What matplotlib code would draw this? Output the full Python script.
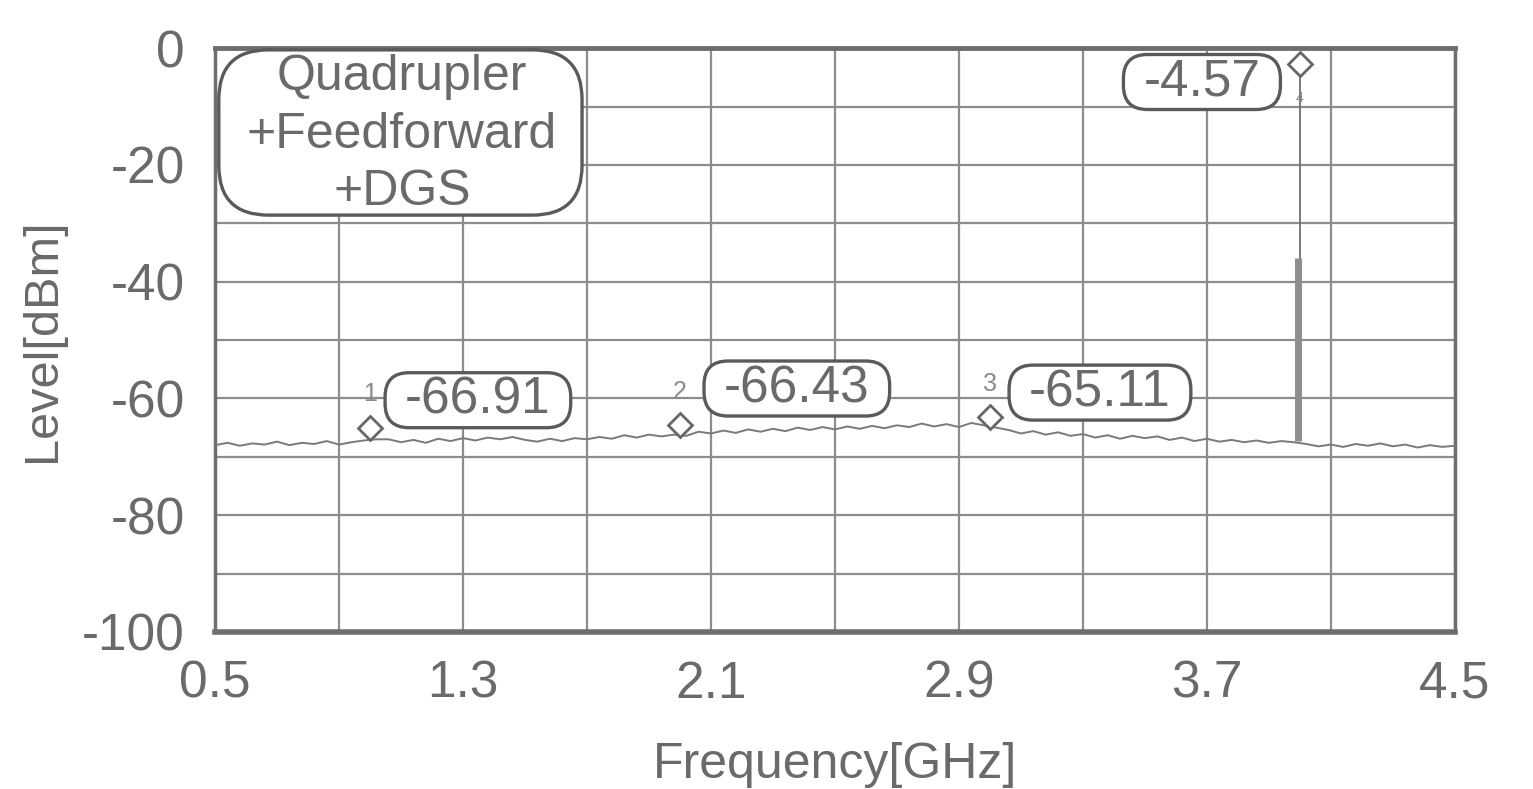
import numpy as np
import matplotlib
matplotlib.use("Agg")
import matplotlib.pyplot as plt
from matplotlib.patches import FancyBboxPatch
from matplotlib.transforms import offset_copy, IdentityTransform

plt.rcParams["font.family"] = ["Liberation Sans", "DejaVu Sans"]

# sweep: 0.5 .. 4.5 GHz, 101 points
freq = np.linspace(0.5, 4.5, 101)
level = [
    -68.0, -67.6, -68.1, -67.7, -67.9, -67.4, -68.0, -67.6, -67.8, -67.3,
    -67.9, -67.5, -67.2, -67.0, -67.0, -67.5, -67.1, -67.6, -66.9, -67.3,
    -66.8, -67.2, -66.7, -67.0, -66.6, -67.1, -67.4, -66.9, -67.3, -66.8,
    -67.0, -66.6, -66.9, -66.3, -66.7, -66.2, -66.5, -66.2, -66.4, -65.7,
    -66.0, -65.5, -65.9, -65.3, -65.7, -65.2, -65.6, -65.0, -65.4, -64.9,
    -65.3, -64.8, -65.2, -64.7, -65.1, -64.6, -64.9, -64.3, -64.8, -64.4,
    -64.9, -64.2, -64.6, -65.0, -65.4, -66.0, -65.6, -66.2, -65.8, -66.4,
    -66.1, -66.7, -66.3, -66.9, -66.4, -66.8, -66.5, -67.1, -66.7, -67.3,
    -66.9, -67.4, -67.1, -67.5, -67.2, -67.6, -67.3, -67.5, -67.8, -68.2,
    -67.9, -68.3, -67.8, -68.1, -67.7, -68.2, -67.9, -68.4, -68.0, -68.3,
    -68.1,
]

# carrier spike at 4 GHz
spike_freq = 4.0
spike_floor = -67.3
spike_peak = -4.57
spike_thick_top = -36.0

# markers
marker_ids = ["1", "2", "3", "4"]
marker_freq = [1.0, 2.0, 3.0, 4.0]
marker_level = [-66.91, -66.43, -65.11, -4.57]
label_x = [1.348, 2.377, 3.355, 3.684]
label_y = [-60.3, -58.3, -59.0, -5.8]

legend_text = "Quadrupler\n+Feedforward\n+DGS"

gray = "#6a6a6a"
edge = "#5a5a5a"

fig = plt.figure(figsize=(15.33, 7.89), dpi=100)
ax = fig.add_axes([0.1403, 0.199, 0.949 - 0.1403, 0.939 - 0.199])

ax.plot(freq, level, color="#7a7a7a", lw=1.4, zorder=3)
ax.vlines(spike_freq, spike_floor, spike_peak, color="#707070", lw=1.3, zorder=3)
ax.vlines(spike_freq - 0.005, spike_floor, spike_thick_top, color="#8e8e8e", lw=5, zorder=3)

ax.set_xlim(0.5, 4.5)
ax.set_ylim(-100, 0)
ax.set_xticks([0.5, 1.3, 2.1, 2.9, 3.7, 4.5])
ax.set_xticks(np.arange(0.5, 4.51, 0.4), minor=True)
ax.set_yticks(np.arange(-100, 1, 20))
ax.set_yticks(np.arange(-100, 1, 10), minor=True)
ax.set_xticklabels(["0.5", "1.3", "2.1", "2.9", "3.7", "4.5"])
ax.set_yticklabels(["-100", "-80", "-60", "-40", "-20", "0"])
ax.grid(True, which="both", color="#8c8c8c", lw=1.6)
ax.set_axisbelow(True)
ax.tick_params(which="both", length=0, labelsize=37, colors=gray)
ax.tick_params(axis="x", pad=20)
ax.tick_params(axis="y", pad=22)
for s in ax.spines.values():
    s.set_color("#6e6e6e")
    s.set_linewidth(2.5)
ax.spines["bottom"].set_linewidth(4)
ax.spines["top"].set_linewidth(3.5)

ax.set_xlabel("Frequency[GHz]", fontsize=36, color=gray, labelpad=24)
ax.set_ylabel("Level[dBm]", fontsize=35, color=gray, labelpad=12)

# marker diamonds sit just above the measured point
up = offset_copy(ax.transData, fig=fig, x=0, y=11, units="dots")
labels = []
for i in range(len(marker_ids)):
    ax.plot(marker_freq[i], marker_level[i], marker="D", ms=12, mfc="white",
            mec="#666666", mew=2.0, transform=up, zorder=5)
    if i < 3:
        ax.text(marker_freq[i], marker_level[i] + 7.6, marker_ids[i], fontsize=18,
                color="#8a8a8a", ha="center", va="center", zorder=5)
    else:
        ax.text(marker_freq[i], marker_level[i] - 4.0, marker_ids[i], fontsize=10,
                color="#8a8a8a", ha="center", va="center", zorder=5)
    t = ax.text(label_x[i], label_y[i], f"{marker_level[i]:.2f}", fontsize=37,
                color=gray, ha="center", va="center", zorder=7)
    labels.append(t)

# pill shaped boxes around the marker readouts
fig.canvas.draw()
r = fig.canvas.get_renderer()
for t in labels:
    bb = t.get_window_extent(r)
    cy = (bb.y0 + bb.y1) / 2
    h = 55
    w = bb.width + 40
    p = FancyBboxPatch((bb.x0 - 20, cy - h / 2), w, h,
                       boxstyle="round,pad=0,rounding_size=24",
                       transform=IdentityTransform(), fc="white", ec=edge, lw=2.4,
                       zorder=6)
    ax.add_artist(p)

box_aspect = (0.939 - 0.199) * 789 / ((0.949 - 0.1403) * 1533)
legend_box = FancyBboxPatch((0.003, 0.714), 0.293, 0.283,
                            boxstyle="round,pad=0,rounding_size=0.04",
                            mutation_aspect=1 / box_aspect,
                            transform=ax.transAxes, fc="white", ec=edge, lw=2.4,
                            zorder=6)
ax.add_patch(legend_box)
ax.text(0.1508, 0.852, legend_text, transform=ax.transAxes, fontsize=36, color=gray,
        ha="center", va="center", multialignment="center", linespacing=1.32, zorder=7)

fig.savefig("out.png", dpi=100, facecolor="white")
